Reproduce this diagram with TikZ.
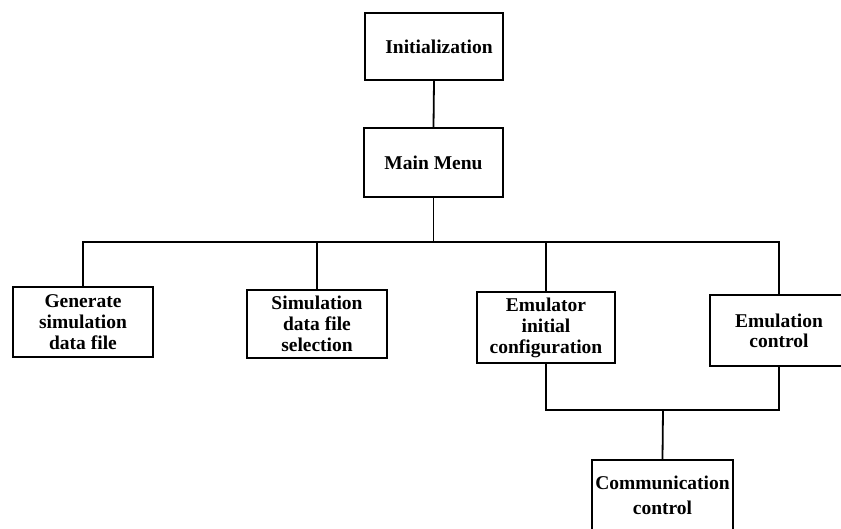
\documentclass[tikz,border=0pt]{standalone}
\usepackage{fontspec}
\setmainfont{Liberation Serif}
\begin{document}
\begin{tikzpicture}[x=1pt,y=-1pt,
  box/.style={draw=black,line width=1.8pt,rectangle,align=center,inner sep=0pt,
    font=\fontsize{19.5}{21}\selectfont\bfseries},
  link/.style={draw=black,line width=1.8pt}]
\useasboundingbox (0,0) rectangle (841,529);
\clip (0,0) rectangle (841,529);

% top of the hierarchy
\node[box,minimum width=138pt,minimum height=67pt] (init) at (434,46.5) {\hspace*{10pt}Initialization};
\node[box,minimum width=139pt,minimum height=69pt] (menu) at (433.5,162.5) {Main Menu};

% menu entries
\node[box,minimum width=140pt,minimum height=70pt] (gen) at (83,322) {Generate\\simulation\\data file};
\node[box,minimum width=140pt,minimum height=68pt] (sel) at (317,324) {Simulation\\data file\\selection};
\node[box,minimum width=138pt,minimum height=71pt] (cfg) at (546,327.5) {Emulator\\initial\\configuration};
\node[box,minimum width=138pt,minimum height=71pt] (ctl) at (779,330.5) {Emulation\\[-1pt]control};

% shared module
\node[box,minimum width=141pt,minimum height=76pt,anchor=north] (com) at (662.5,459)
  {\raisebox{4pt}{\begin{tabular}{@{}c@{}}Communication\\[4pt]control\end{tabular}}};

% bus points
\coordinate (bus) at (433.5,242);
\coordinate (join) at (663,410);

\draw[link] (init.south) -- (menu.north);
\draw[link] (menu.south) -- (bus);
\draw[link] (bus) -| (gen.north);
\draw[link] (bus) -| (sel.north);
\draw[link] (bus) -| (cfg.north);
\draw[link] (bus) -| (ctl.north);
\draw[link] (cfg.south) |- (join) -| (ctl.south);
\draw[link] (join) -- (com.north);
\end{tikzpicture}
\end{document}
